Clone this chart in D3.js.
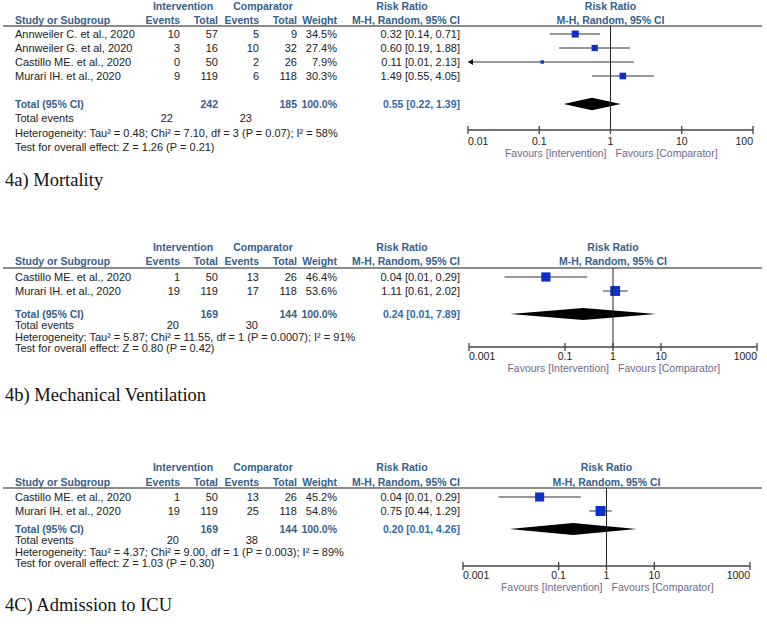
<!DOCTYPE html>
<html><head><meta charset="utf-8">
<script src="https://cdn.jsdelivr.net/npm/d3@7"></script>
<style>body{margin:0;background:#fff} svg{display:block}</style>
</head><body><svg id="c" width="767" height="627"></svg>
<script>
// ---------- Panel 4a) Mortality ----------
const studiesA = ["Annweiler C. et al., 2020","Annweiler G. et al, 2020","Castillo ME. et al., 2020","Murari IH. et al., 2020"];
const intEventsA = [10,3,0,9];
const intTotalA = [57,16,50,119];
const compEventsA = [5,10,2,6];
const compTotalA = [9,32,26,118];
const weightA = [34.5,27.4,7.9,30.3];
const rrA = [0.32,0.60,0.11,1.49];
const loA = [0.14,0.19,0.0053,0.55];
const hiA = [0.71,1.88,2.13,4.05];
const pooledA = [0.55,0.22,1.39];
const hetA = "Heterogeneity: Tau² = 0.48; Chi² = 7.10, df = 3 (P = 0.07); I² = 58%";
const testA = "Test for overall effect: Z = 1.26 (P = 0.21)";
const ticksA = [0.01,0.1,1,10,100];
const tickLabelsA = ["0.01","0.1","1","10","100"];
const titleA = "4a) Mortality";

// ---------- Panel 4b) Mechanical Ventilation ----------
const studiesB = ["Castillo ME. et al., 2020","Murari IH. et al., 2020"];
const intEventsB = [1,19];
const intTotalB = [50,119];
const compEventsB = [13,17];
const compTotalB = [26,118];
const weightB = [46.4,53.6];
const rrB = [0.04,1.11];
const loB = [0.0055,0.61];
const hiB = [0.29,2.02];
const pooledB = [0.24,0.0072,7.89];
const hetB = "Heterogeneity: Tau² = 5.87; Chi² = 11.55, df = 1 (P = 0.0007); I² = 91%";
const testB = "Test for overall effect: Z = 0.80 (P = 0.42)";
const ticksB = [0.001,0.1,1,10,1000];
const tickLabelsB = ["0.001","0.1","1","10","1000"];
const titleB = "4b) Mechanical Ventilation";

// ---------- Panel 4C) Admission to ICU ----------
const studiesC = ["Castillo ME. et al., 2020","Murari IH. et al., 2020"];
const intEventsC = [1,19];
const intTotalC = [50,119];
const compEventsC = [13,25];
const compTotalC = [26,118];
const weightC = [45.2,54.8];
const rrC = [0.04,0.75];
const loC = [0.0055,0.44];
const hiC = [0.29,1.29];
const pooledC = [0.20,0.0093,4.26];
const hetC = "Heterogeneity: Tau² = 4.37; Chi² = 9.00, df = 1 (P = 0.003); I² = 89%";
const testC = "Test for overall effect: Z = 1.03 (P = 0.30)";
const ticksC = [0.001,0.1,1,10,1000];
const tickLabelsC = ["0.001","0.1","1","10","1000"];
const titleC = "4C) Admission to ICU";

const totalWeight = 100.0;
const favLeft = "Favours [Intervention]";
const favRight = "Favours [Comparator]";

// ---------- drawing ----------
const svg = d3.select("#c");
const HEAD = "#35608c", TOT = "#2f6ca8", FAV = "#6d6a86", TXT = "#222";
const F = "Arial, 'Liberation Sans', sans-serif";
const f2 = d3.format(".2f"), f1 = d3.format(".1f");

function panel(d, L) {
  const g = svg.append("g");
  const t = (x, y, s, o = {}) => g.append("text").attr("x", x).attr("y", y).attr("dy", "0.35em")
    .attr("font-family", F).attr("font-size", o.size || 11).attr("font-weight", o.bold ? "bold" : null)
    .attr("fill", o.color || TXT).attr("text-anchor", o.anchor || "start").text(s);
  const col = {study: 15, ie: 180, it: 218, ce: 259, ct: 297, w: 337, ci: 460};
  const hb = {bold: 1, color: HEAD, size: 10.5};
  t(183, L.yH1, "Intervention", {...hb, anchor: "middle"});
  t(263, L.yH1, "Comparator", {...hb, anchor: "middle"});
  t(402, L.yH1, "Risk Ratio", {...hb, anchor: "middle"});
  t(col.study, L.yH2, "Study or Subgroup", hb);
  t(col.ie, L.yH2, "Events", {...hb, anchor: "end"});
  t(col.it, L.yH2, "Total", {...hb, anchor: "end"});
  t(col.ce, L.yH2, "Events", {...hb, anchor: "end"});
  t(col.ct, L.yH2, "Total", {...hb, anchor: "end"});
  t(col.w, L.yH2, "Weight", {...hb, anchor: "end"});
  t(col.ci, L.yH2, "M-H, Random, 95% CI", {...hb, anchor: "end"});

  const x = d3.scaleLog().domain(d3.extent(d.ticks)).range([L.x0, L.x1]);
  const x1 = x(1);
  t(x1, L.yH1, "Risk Ratio", {...hb, anchor: "middle"});
  t(x1, L.yH2, "M-H, Random, 95% CI", {...hb, anchor: "middle"});

  g.append("line").attr("x1", 3).attr("x2", 762).attr("y1", L.yLine).attr("y2", L.yLine)
    .attr("stroke", "#666").attr("stroke-width", 1.5);

  const boxSize = d3.scaleSqrt().domain([0, 100]).range([0, L.boxK]);
  d.studies.forEach((s, i) => {
    const y = L.rowY[i];
    t(col.study, y, s);
    t(col.ie, y, d.ie[i], {anchor: "end"});
    t(col.it, y, d.it[i], {anchor: "end"});
    t(col.ce, y, d.ce[i], {anchor: "end"});
    t(col.ct, y, d.ct[i], {anchor: "end"});
    t(col.w, y, f1(d.w[i]) + "%", {anchor: "end"});
    t(col.ci, y, `${f2(d.rr[i])} [${f2(d.lo[i])}, ${f2(d.hi[i])}]`, {anchor: "end"});
    const lo = d.lo[i], dmin = x.domain()[0];
    const xl = x(Math.max(lo, dmin)), xh = x(Math.min(d.hi[i], x.domain()[1]));
    g.append("line").attr("x1", xl).attr("x2", xh).attr("y1", y).attr("y2", y)
      .attr("stroke", "#333").attr("stroke-width", 1);
    if (lo < dmin) {
      g.append("path").attr("d", `M${xl},${y} l5,-3 l0,6 z`).attr("fill", "#111");
    }
    const b = boxSize(d.w[i]);
    g.append("rect").attr("x", x(d.rr[i]) - b / 2).attr("y", y - b / 2)
      .attr("width", b).attr("height", b).attr("fill", "#0a32c8");
  });

  t(col.study, L.yTotal, "Total (95% CI)", hb);
  t(col.it, L.yTotal, d3.sum(d.it), {...hb, anchor: "end"});
  t(col.ct, L.yTotal, d3.sum(d.ct), {...hb, anchor: "end"});
  t(col.w, L.yTotal, f1(totalWeight) + "%", {...hb, anchor: "end"});
  const [pr, pl, ph] = d.pooled;
  t(col.ci, L.yTotal, `${f2(pr)} [${f2(pl)}, ${f2(ph)}]`, {bold: 1, color: TOT, anchor: "end", size: 10.5});
  const h = L.diaH;
  g.append("path").attr("d", `M${x(pl)},${L.yTotal} L${x(pr)},${L.yTotal - h} L${x(ph)},${L.yTotal} L${x(pr)},${L.yTotal + h} Z`)
    .attr("fill", "#000");

  t(col.study, L.yEvents, "Total events");
  t(col.ie - L.evShift, L.yEvents, d3.sum(d.ie), {anchor: "end"});
  t(col.ce - L.evShift, L.yEvents, d3.sum(d.ce), {anchor: "end"});
  t(col.study, L.yHet, d.het);
  t(col.study, L.yTest, d.test);

  g.append("line").attr("x1", x1).attr("x2", x1).attr("y1", L.yLine).attr("y2", L.yAxis)
    .attr("stroke", "#222").attr("stroke-width", 1);
  g.append("line").attr("x1", L.x0).attr("x2", L.x1).attr("y1", L.yAxis).attr("y2", L.yAxis)
    .attr("stroke", "#444").attr("stroke-width", 1.3);
  d.ticks.forEach((v, i) => {
    g.append("line").attr("x1", x(v)).attr("x2", x(v)).attr("y1", L.yAxis - 4).attr("y2", L.yAxis + 4)
      .attr("stroke", "#444").attr("stroke-width", 1.3);
    const anchor = i === 0 ? "start" : (i === d.ticks.length - 1 ? "end" : "middle");
    t(x(v), L.yTickLab, d.tickLabels[i], {anchor, size: 10.5});
  });
  t(x1 - 4, L.yFav, favLeft, {anchor: "end", color: FAV, size: 10.5});
  t(x1 + 5, L.yFav, favRight, {anchor: "start", color: FAV, size: 10.5});

  g.append("text").attr("x", 5).attr("y", L.yTitle).attr("font-family", "'Times New Roman', 'Liberation Serif', serif")
    .attr("font-size", 18.5).attr("fill", "#111").text(d.title);
}

panel({studies: studiesA, ie: intEventsA, it: intTotalA, ce: compEventsA, ct: compTotalA, w: weightA,
  rr: rrA, lo: loA, hi: hiA, pooled: pooledA, het: hetA, test: testA, ticks: ticksA, tickLabels: tickLabelsA, title: titleA},
  {yH1: 6, yH2: 20, yLine: 26, rowY: [34, 48, 62, 76], yTotal: 104, yEvents: 118, yHet: 133, yTest: 147,
   yAxis: 130, yTickLab: 141, yFav: 153, yTitle: 186, x0: 468, x1: 753, boxK: 12, diaH: 6.3, evShift: 7});

panel({studies: studiesB, ie: intEventsB, it: intTotalB, ce: compEventsB, ct: compTotalB, w: weightB,
  rr: rrB, lo: loB, hi: hiB, pooled: pooledB, het: hetB, test: testB, ticks: ticksB, tickLabels: tickLabelsB, title: titleB},
  {yH1: 247, yH2: 261, yLine: 268, rowY: [277, 291], yTotal: 314, yEvents: 325, yHet: 337, yTest: 348,
   yAxis: 347, yTickLab: 356, yFav: 368, yTitle: 401, x0: 469, x1: 757, boxK: 13.5, diaH: 6, evShift: 1});

panel({studies: studiesC, ie: intEventsC, it: intTotalC, ce: compEventsC, ct: compTotalC, w: weightC,
  rr: rrC, lo: loC, hi: hiC, pooled: pooledC, het: hetC, test: testC, ticks: ticksC, tickLabels: tickLabelsC, title: titleC},
  {yH1: 467, yH2: 482, yLine: 488, rowY: [497, 511], yTotal: 529, yEvents: 540, yHet: 552, yTest: 563,
   yAxis: 566, yTickLab: 575, yFav: 587, yTitle: 611, x0: 463, x1: 750, boxK: 13.5, diaH: 6, evShift: 1});
</script></body></html>
